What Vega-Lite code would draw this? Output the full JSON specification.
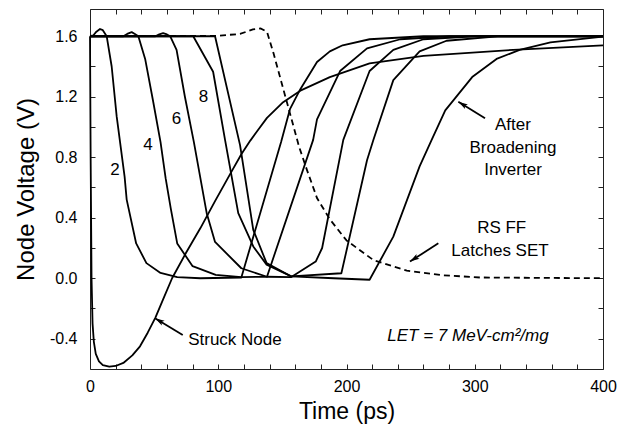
{
  "$schema": "https://vega.github.io/schema/vega-lite/v6.json",
  "width": 513,
  "height": 360,
  "autosize": {"type": "none"},
  "padding": {"left": 90, "top": 9, "right": 14, "bottom": 59},
  "background": "white",
  "config": {
    "view": {"stroke": "#222", "strokeWidth": 1},
    "font": "Liberation Sans",
    "axis": {"grid": false, "domain": false, "tickColor": "#222", "tickWidth": 1, "labelColor": "black", "titleColor": "black", "labelFont": "Liberation Sans", "titleFont": "Liberation Sans", "titleFontWeight": "normal", "labelOverlap": false, "labelFlush": false}
  },
  "datasets": {
    "solid": [
      {"s": "struck", "t": 0, "v": 1.6}, {"s": "struck", "t": 0.5, "v": 0.8}, {"s": "struck", "t": 1.2, "v": 0.0}, {"s": "struck", "t": 2, "v": -0.3}, {"s": "struck", "t": 3, "v": -0.42}, {"s": "struck", "t": 4.5, "v": -0.5}, {"s": "struck", "t": 7, "v": -0.55}, {"s": "struck", "t": 10, "v": -0.575}, {"s": "struck", "t": 15, "v": -0.585}, {"s": "struck", "t": 20, "v": -0.58}, {"s": "struck", "t": 26, "v": -0.56}, {"s": "struck", "t": 33, "v": -0.51}, {"s": "struck", "t": 39, "v": -0.45}, {"s": "struck", "t": 45, "v": -0.36}, {"s": "struck", "t": 51, "v": -0.26}, {"s": "struck", "t": 57, "v": -0.14}, {"s": "struck", "t": 64, "v": 0.0}, {"s": "struck", "t": 75, "v": 0.17}, {"s": "struck", "t": 86, "v": 0.33}, {"s": "struck", "t": 97.5, "v": 0.51}, {"s": "struck", "t": 110, "v": 0.7}, {"s": "struck", "t": 118, "v": 0.82}, {"s": "struck", "t": 125, "v": 0.91}, {"s": "struck", "t": 131, "v": 0.98}, {"s": "struck", "t": 138, "v": 1.06}, {"s": "struck", "t": 150, "v": 1.16}, {"s": "struck", "t": 164, "v": 1.24}, {"s": "struck", "t": 187, "v": 1.33}, {"s": "struck", "t": 218, "v": 1.42}, {"s": "struck", "t": 260, "v": 1.47}, {"s": "struck", "t": 330, "v": 1.51}, {"s": "struck", "t": 400, "v": 1.54},

      {"s": "inv2", "t": 0, "v": 1.6}, {"s": "inv2", "t": 2.5, "v": 1.605}, {"s": "inv2", "t": 5, "v": 1.63}, {"s": "inv2", "t": 7.8, "v": 1.648}, {"s": "inv2", "t": 10, "v": 1.64}, {"s": "inv2", "t": 13, "v": 1.6}, {"s": "inv2", "t": 16.9, "v": 1.4}, {"s": "inv2", "t": 20.8, "v": 1.07}, {"s": "inv2", "t": 27, "v": 0.67}, {"s": "inv2", "t": 28.6, "v": 0.52}, {"s": "inv2", "t": 36, "v": 0.23}, {"s": "inv2", "t": 44, "v": 0.1}, {"s": "inv2", "t": 55, "v": 0.035}, {"s": "inv2", "t": 68, "v": 0.007}, {"s": "inv2", "t": 86, "v": 0.0}, {"s": "inv2", "t": 118, "v": 0.005}, {"s": "inv2", "t": 149, "v": 0.9}, {"s": "inv2", "t": 156, "v": 1.12}, {"s": "inv2", "t": 164, "v": 1.25}, {"s": "inv2", "t": 177, "v": 1.43}, {"s": "inv2", "t": 187, "v": 1.5}, {"s": "inv2", "t": 197, "v": 1.54}, {"s": "inv2", "t": 218, "v": 1.58}, {"s": "inv2", "t": 260, "v": 1.6}, {"s": "inv2", "t": 400, "v": 1.6},

      {"s": "inv4", "t": 0, "v": 1.6}, {"s": "inv4", "t": 26, "v": 1.6}, {"s": "inv4", "t": 29, "v": 1.615}, {"s": "inv4", "t": 32.5, "v": 1.627}, {"s": "inv4", "t": 35, "v": 1.615}, {"s": "inv4", "t": 37.7, "v": 1.6}, {"s": "inv4", "t": 43, "v": 1.45}, {"s": "inv4", "t": 49, "v": 1.18}, {"s": "inv4", "t": 55, "v": 0.9}, {"s": "inv4", "t": 59, "v": 0.66}, {"s": "inv4", "t": 63, "v": 0.46}, {"s": "inv4", "t": 68, "v": 0.23}, {"s": "inv4", "t": 80, "v": 0.08}, {"s": "inv4", "t": 98, "v": 0.022}, {"s": "inv4", "t": 118, "v": 0.008}, {"s": "inv4", "t": 138, "v": 0.01}, {"s": "inv4", "t": 174, "v": 0.915}, {"s": "inv4", "t": 177, "v": 1.05}, {"s": "inv4", "t": 195, "v": 1.37}, {"s": "inv4", "t": 216, "v": 1.52}, {"s": "inv4", "t": 242, "v": 1.58}, {"s": "inv4", "t": 280, "v": 1.6}, {"s": "inv4", "t": 400, "v": 1.6},

      {"s": "inv6", "t": 0, "v": 1.6}, {"s": "inv6", "t": 51, "v": 1.6}, {"s": "inv6", "t": 54, "v": 1.612}, {"s": "inv6", "t": 57, "v": 1.62}, {"s": "inv6", "t": 60, "v": 1.612}, {"s": "inv6", "t": 62.5, "v": 1.6}, {"s": "inv6", "t": 67.5, "v": 1.51}, {"s": "inv6", "t": 74, "v": 1.2}, {"s": "inv6", "t": 81, "v": 0.9}, {"s": "inv6", "t": 91, "v": 0.43}, {"s": "inv6", "t": 97.5, "v": 0.24}, {"s": "inv6", "t": 118, "v": 0.066}, {"s": "inv6", "t": 138, "v": 0.01}, {"s": "inv6", "t": 157, "v": 0.008}, {"s": "inv6", "t": 176, "v": 0.11}, {"s": "inv6", "t": 181, "v": 0.2}, {"s": "inv6", "t": 197.5, "v": 0.915}, {"s": "inv6", "t": 218, "v": 1.37}, {"s": "inv6", "t": 236.5, "v": 1.51}, {"s": "inv6", "t": 260, "v": 1.58}, {"s": "inv6", "t": 300, "v": 1.6}, {"s": "inv6", "t": 400, "v": 1.6},

      {"s": "inv8", "t": 0, "v": 1.6}, {"s": "inv8", "t": 80.5, "v": 1.6}, {"s": "inv8", "t": 96, "v": 1.365}, {"s": "inv8", "t": 105.3, "v": 0.915}, {"s": "inv8", "t": 115.6, "v": 0.43}, {"s": "inv8", "t": 127.3, "v": 0.21}, {"s": "inv8", "t": 137.7, "v": 0.09}, {"s": "inv8", "t": 157, "v": 0.012}, {"s": "inv8", "t": 196, "v": 0.033}, {"s": "inv8", "t": 216, "v": 0.78}, {"s": "inv8", "t": 221, "v": 0.915}, {"s": "inv8", "t": 236.5, "v": 1.31}, {"s": "inv8", "t": 257, "v": 1.5}, {"s": "inv8", "t": 278, "v": 1.57}, {"s": "inv8", "t": 320, "v": 1.6}, {"s": "inv8", "t": 400, "v": 1.6},

      {"s": "broad", "t": 0, "v": 1.6}, {"s": "broad", "t": 97.5, "v": 1.6}, {"s": "broad", "t": 117, "v": 0.88}, {"s": "broad", "t": 127.3, "v": 0.32}, {"s": "broad", "t": 137.7, "v": 0.1}, {"s": "broad", "t": 157, "v": 0.012}, {"s": "broad", "t": 190, "v": 0.0}, {"s": "broad", "t": 218, "v": -0.01}, {"s": "broad", "t": 236.5, "v": 0.275}, {"s": "broad", "t": 257, "v": 0.74}, {"s": "broad", "t": 266.4, "v": 0.915}, {"s": "broad", "t": 277, "v": 1.11}, {"s": "broad", "t": 298, "v": 1.33}, {"s": "broad", "t": 317, "v": 1.45}, {"s": "broad", "t": 335, "v": 1.51}, {"s": "broad", "t": 359, "v": 1.56}, {"s": "broad", "t": 400, "v": 1.597}
    ],
    "dashed": [
      {"t": 0, "v": 1.6}, {"t": 99, "v": 1.603}, {"t": 117, "v": 1.615}, {"t": 127, "v": 1.645}, {"t": 133, "v": 1.652}, {"t": 138, "v": 1.63}, {"t": 143, "v": 1.49}, {"t": 153, "v": 1.18}, {"t": 163, "v": 0.87}, {"t": 169, "v": 0.72}, {"t": 177, "v": 0.53}, {"t": 187, "v": 0.39}, {"t": 200, "v": 0.25}, {"t": 221, "v": 0.12}, {"t": 247, "v": 0.05}, {"t": 275, "v": 0.02}, {"t": 304, "v": 0.005}, {"t": 400, "v": 0.0}
    ],
    "numbers": [
      {"t": 19.5, "v": 0.716, "txt": "2"}, {"t": 45.3, "v": 0.88, "txt": "4"}, {"t": 67.5, "v": 1.05, "txt": "6"}, {"t": 88.4, "v": 1.2, "txt": "8"}
    ],
    "notes": [
      {"t": 113, "v": -0.411, "txt": "Struck Node"},
      {"t": 329.8, "v": 1.013, "txt": "After"},
      {"t": 329.8, "v": 0.861, "txt": "Broadening"},
      {"t": 329.8, "v": 0.716, "txt": "Inverter"},
      {"t": 321, "v": 0.33, "txt": "RS FF"},
      {"t": 319.7, "v": 0.18, "txt": "Latches SET"}
    ],
    "let": [
      {"t": 294.7, "v": -0.38, "txt": "LET = 7 MeV-cm²/mg"}
    ],
    "arrows": [
      {"id": "struck", "t1": 72.3, "v1": -0.375, "t2": 50.7, "v2": -0.264},
      {"id": "after", "t1": 308, "v1": 1.057, "t2": 287.2, "v2": 1.167},
      {"id": "rs", "t1": 271.6, "v1": 0.231, "t2": 249.5, "v2": 0.11}
    ]
  },
  "layer": [
    {
      "data": {"name": "solid"},
      "mark": {"type": "line", "color": "black", "strokeWidth": 1.8, "strokeJoin": "round"},
      "encoding": {
        "x": {"field": "t", "type": "quantitative", "scale": {"domain": [0, 400], "nice": false, "zero": false},
          "axis": {"orient": "bottom", "title": "Time (ps)", "values": [0,20,40,60,80,100,120,140,160,180,200,220,240,260,280,300,320,340,360,380,400],
            "labelExpr": "datum.value % 100 === 0 ? datum.label : ''", "tickSize": -5, "labelPadding": 14, "labelFontSize": 16, "titleFontSize": 23, "titlePadding": 6}},
        "y": {"field": "v", "type": "quantitative", "scale": {"domain": [-0.6, 1.78], "nice": false, "zero": false},
          "axis": {"orient": "left", "title": "Node Voltage (V)", "values": [-0.4,-0.2,0,0.2,0.4,0.6,0.8,1,1.2,1.4,1.6], "format": ".1f",
            "labelExpr": "abs(round(datum.value*10)) % 4 === 0 ? replace(datum.label, '\u2212', '-') : ''", "tickSize": -5, "labelPadding": 18, "labelFontSize": 16, "titleFontSize": 24, "titlePadding": 11}},
        "detail": {"field": "s"}
      }
    },
    {
      "data": {"name": "dashed"},
      "mark": {"type": "line", "color": "black", "strokeWidth": 1.8, "strokeDash": [6, 4]},
      "encoding": {
        "x": {"field": "t", "type": "quantitative", "scale": {"domain": [0, 400], "nice": false, "zero": false},
          "axis": {"orient": "top", "title": null, "labels": false, "values": [0,20,40,60,80,100,120,140,160,180,200,220,240,260,280,300,320,340,360,380,400], "tickSize": -5}},
        "y": {"field": "v", "type": "quantitative", "scale": {"domain": [-0.6, 1.78], "nice": false, "zero": false},
          "axis": {"orient": "right", "title": null, "labels": false, "values": [-0.4,-0.2,0,0.2,0.4,0.6,0.8,1,1.2,1.4,1.6], "tickSize": -5}}
      }
    },
    {
      "data": {"name": "numbers"},
      "mark": {"type": "text", "fontSize": 17, "color": "black", "align": "center", "baseline": "middle"},
      "encoding": {
        "x": {"field": "t", "type": "quantitative", "axis": null},
        "y": {"field": "v", "type": "quantitative", "axis": null},
        "text": {"field": "txt"}
      }
    },
    {
      "data": {"name": "notes"},
      "mark": {"type": "text", "fontSize": 17, "color": "black", "align": "center", "baseline": "middle"},
      "encoding": {
        "x": {"field": "t", "type": "quantitative", "axis": null},
        "y": {"field": "v", "type": "quantitative", "axis": null},
        "text": {"field": "txt"}
      }
    },
    {
      "data": {"name": "let"},
      "mark": {"type": "text", "fontSize": 17, "fontStyle": "italic", "color": "black", "align": "center", "baseline": "middle"},
      "encoding": {
        "x": {"field": "t", "type": "quantitative", "axis": null},
        "y": {"field": "v", "type": "quantitative", "axis": null},
        "text": {"field": "txt"}
      }
    },
    {
      "data": {"name": "arrows"},
      "mark": {"type": "rule", "color": "black", "strokeWidth": 1.8},
      "encoding": {
        "x": {"field": "t1", "type": "quantitative", "axis": null},
        "y": {"field": "v1", "type": "quantitative", "axis": null},
        "x2": {"field": "t2"},
        "y2": {"field": "v2"}
      }
    },
    {
      "data": {"name": "arrows"},
      "transform": [{"filter": "datum.id === 'struck'"}],
      "mark": {"type": "point", "shape": "M0,0 L-0.45,1.6 L0,1.25 L0.45,1.6 Z", "size": 144, "filled": true, "color": "black", "opacity": 1, "angle": 301},
      "encoding": {
        "x": {"field": "t2", "type": "quantitative", "axis": null},
        "y": {"field": "v2", "type": "quantitative", "axis": null}
      }
    },
    {
      "data": {"name": "arrows"},
      "transform": [{"filter": "datum.id === 'after'"}],
      "mark": {"type": "point", "shape": "M0,0 L-0.45,1.6 L0,1.25 L0.45,1.6 Z", "size": 144, "filled": true, "color": "black", "opacity": 1, "angle": 302},
      "encoding": {
        "x": {"field": "t2", "type": "quantitative", "axis": null},
        "y": {"field": "v2", "type": "quantitative", "axis": null}
      }
    },
    {
      "data": {"name": "arrows"},
      "transform": [{"filter": "datum.id === 'rs'"}],
      "mark": {"type": "point", "shape": "M0,0 L-0.45,1.6 L0,1.25 L0.45,1.6 Z", "size": 144, "filled": true, "color": "black", "opacity": 1, "angle": 237},
      "encoding": {
        "x": {"field": "t2", "type": "quantitative", "axis": null},
        "y": {"field": "v2", "type": "quantitative", "axis": null}
      }
    }
  ],
  "resolve": {"axis": {"x": "independent", "y": "independent"}}
}
